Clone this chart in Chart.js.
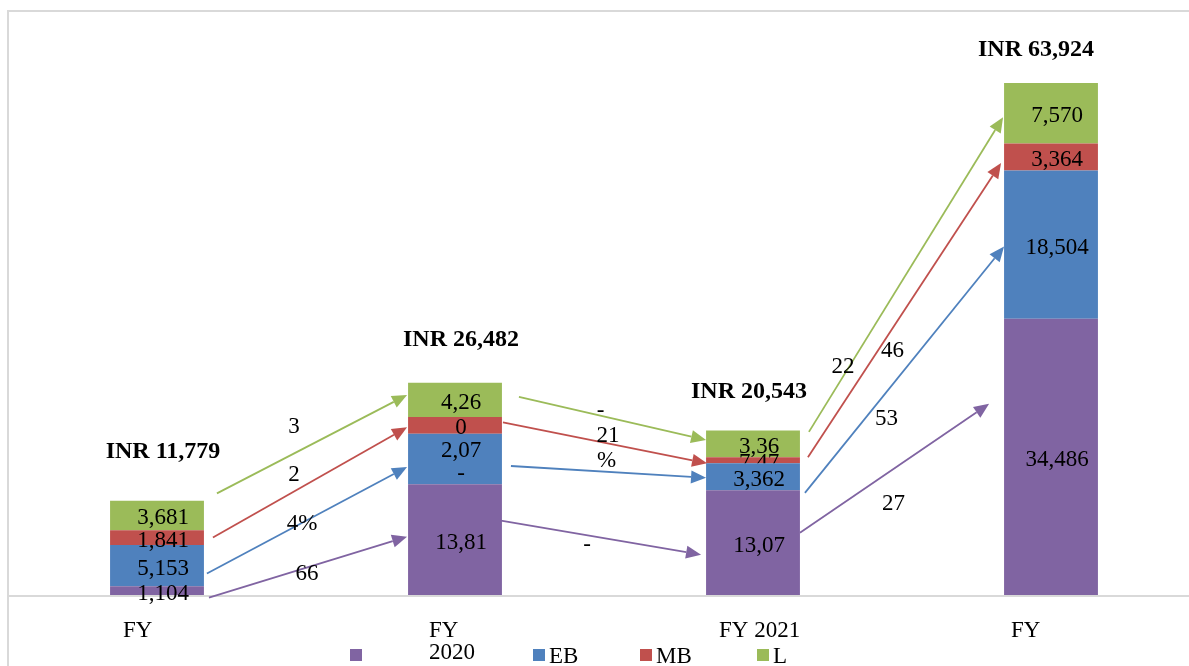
<!DOCTYPE html>
<html>
<head>
<meta charset="utf-8">
<title>INR by segment, FY</title>
<script src="https://cdn.jsdelivr.net/npm/chart.js@4.4.1/dist/chart.umd.min.js"></script>
<style>
  html, body { margin: 0; padding: 0; background: #fff; overflow: hidden; }
  #wrap { width: 1200px; height: 666px; }
</style>
</head>
<body>
<div id="wrap"><canvas id="chart" width="1200" height="666"></canvas></div>
<script>
// ── Data ─────────────────────────────────────────────────────
const categories  = [['FY'], ['FY', '2020'], ['FY 2021'], ['FY']];
const seriesNames = ['', 'EB', 'MB', 'L'];

const firstVals = [1104, 13815, 13072, 34486];
const ebVals    = [5153, 6327, 3362, 18504];
const mbVals    = [1841, 2075, 747, 3364];
const lVals     = [3681, 4265, 3362, 7570];

// segment labels as printed (several are cut short in the source)
const firstText = ['1,104', '13,81', '13,07', '34,486'];
const ebText    = ['5,153', ['2,07', '-'], '3,362', '18,504'];
const mbText    = ['1,841', '0', '7,47', '3,364'];
const lText     = ['3,681', '4,26', '3,36', '7,570'];

// change labels on the arrows, one per step between bars
const firstGrowth = ['66', '-', '27'];
const ebGrowth    = ['4%', '%', '53'];
const mbGrowth    = ['2', '21', '46'];
const lGrowth     = ['3', '-', '22'];

// ── Look ─────────────────────────────────────────────────────
const COLORS = ['#8064A2', '#4F81BD', '#C0504D', '#9BBB59'];
const SERIF  = '"Liberation Serif", "Times New Roman", serif';
const FRAME  = '#d9d9d9';

const layout = {
  totalShift: [[6, -49], [6, -43], [-4, -39], [-15, -33]],
  // arrow end nudges [dx1, dy1, dx2, dy2], per series, per step
  arrowShift: [
    [[-3, 7, 0, -3],   [-9, -19, -4, 12], [-8, -10, -14, -53]],
    [[-5, 8, 0, 8],    [1, 7, 1, 1],      [-3, 16, 1, 2]],
    [[1, 0, 0, 2],     [-7, -3, 2, 3],    [0, -3, -2, 6]],
    [[5, -22, 0, -5],  [9, -3, 1, -4],    [1, -12, 0, 4]]
  ],
  // change label offset from the arrow midpoint, per series, per step
  growthShift: [
    [[-1, 7],   [-14, 7],  [-1, 36]],
    [[-5, 4],   [-2, -11], [-18, 49]],
    [[-16, -7], [3, -7],   [-12, 41]],
    [[-18, -17],[-12, -7], [-63, 92]]
  ],
  tickLeft: [-34, -26, -34, -40],
  legendX:  [350, 533, 640, 757]
};

const valueSets  = [firstVals, ebVals, mbVals, lVals];
const textSets   = [firstText, ebText, mbText, lText];
const growthSets = [firstGrowth, ebGrowth, mbGrowth, lGrowth];

function arrow(ctx, x1, y1, x2, y2, color) {
  const a = Math.atan2(y2 - y1, x2 - x1), len = 15, half = 6.5;
  const bx = x2 - len * Math.cos(a), by = y2 - len * Math.sin(a);
  ctx.strokeStyle = color; ctx.lineWidth = 1.8;
  ctx.beginPath(); ctx.moveTo(x1, y1); ctx.lineTo(bx, by); ctx.stroke();
  ctx.fillStyle = color;
  ctx.beginPath();
  ctx.moveTo(x2, y2);
  ctx.lineTo(bx + half * Math.sin(a), by - half * Math.cos(a));
  ctx.lineTo(bx - half * Math.sin(a), by + half * Math.cos(a));
  ctx.closePath(); ctx.fill();
}

const mid = el => (el.y + el.base) / 2;

// ── Annotations: frame, labels, arrows, totals, legend ───────
const annotate = {
  id: 'annotate',
  beforeDatasetsDraw(chart) {
    const { ctx, chartArea: ca } = chart;
    ctx.save();
    ctx.strokeStyle = FRAME; ctx.lineWidth = 2;
    ctx.beginPath();
    ctx.moveTo(ca.left, chart.height); ctx.lineTo(ca.left, ca.top); ctx.lineTo(chart.width, ca.top);
    ctx.moveTo(ca.left, ca.bottom + 1); ctx.lineTo(chart.width, ca.bottom + 1);
    ctx.stroke();
    ctx.restore();
  },
  afterDatasetsDraw(chart) {
    const { ctx } = chart;
    const metas = valueSets.map((_, d) => chart.getDatasetMeta(d).data);
    ctx.save();
    ctx.fillStyle = '#000';
    ctx.textBaseline = 'middle';

    // arrows between bars + change labels
    ctx.font = '23px ' + SERIF;
    ctx.textAlign = 'center';
    for (let i = 0; i < categories.length - 1; i++) {
      metas.forEach((bars, d) => {
        const a = bars[i], b = bars[i + 1];
        const [sx1, sy1, sx2, sy2] = layout.arrowShift[d][i];
        const x1 = a.x + a.width / 2 + 8 + sx1, y1 = mid(a) + sy1;
        const x2 = b.x - b.width / 2 - 1 + sx2, y2 = mid(b) + sy2;
        arrow(ctx, x1, y1, x2, y2, COLORS[d]);
        const [dx, dy] = layout.growthShift[d][i];
        ctx.fillStyle = '#000';
        ctx.fillText(growthSets[d][i], (x1 + x2) / 2 + dx, (y1 + y2) / 2 + dy);
      });
    }

    // segment values
    metas.forEach((bars, d) => {
      bars.forEach((el, i) => {
        const t = textSets[d][i];
        const lines = Array.isArray(t) ? t : [t];
        const cy = mid(el) + 3 - (lines.length - 1) * 11.5;
        ctx.save();
        if (el.base - el.y < 7) {
          ctx.beginPath(); ctx.rect(el.x - 80, 0, 160, el.base); ctx.clip();
        }
        lines.forEach((ln, k) => ctx.fillText(ln, el.x + 6, cy + k * 23));
        ctx.restore();
      });
    });

    // totals above each bar
    ctx.font = 'bold 24px ' + SERIF;
    categories.forEach((_, i) => {
      const sum = valueSets.reduce((s, v) => s + v[i], 0);
      const top = metas[metas.length - 1][i];
      const [dx, dy] = layout.totalShift[i];
      ctx.fillText('INR ' + sum.toLocaleString('en-US'), top.x + dx, top.y + dy);
    });

    // category labels
    ctx.font = '23px ' + SERIF;
    ctx.textAlign = 'left';
    categories.forEach((lines, i) => {
      const x = metas[0][i].x + layout.tickLeft[i];
      lines.forEach((ln, k) => ctx.fillText(ln, x, 631 + k * 22));
    });

    // legend
    seriesNames.forEach((name, d) => {
      const x = layout.legendX[d];
      ctx.fillStyle = COLORS[d];
      ctx.fillRect(x, 649, 12, 12);
      ctx.fillStyle = '#000';
      ctx.fillText(name, x + 16, 657);
    });
    ctx.restore();
  }
};

new Chart(document.getElementById('chart'), {
  type: 'bar',
  data: {
    labels: categories,
    datasets: valueSets.map((vals, d) => ({
      label: seriesNames[d],
      data: vals,
      backgroundColor: COLORS[d],
      borderWidth: 0,
      barPercentage: 0.315,
      categoryPercentage: 1
    }))
  },
  options: {
    responsive: false,
    animation: false,
    layout: { padding: { left: 8, top: 11, right: 0, bottom: 71 } },
    plugins: { legend: { display: false }, tooltip: { enabled: false } },
    scales: {
      x: { stacked: true, display: false },
      y: { stacked: true, display: false, min: 0, max: 72900 }
    }
  },
  plugins: [annotate]
});
</script>
</body>
</html>
